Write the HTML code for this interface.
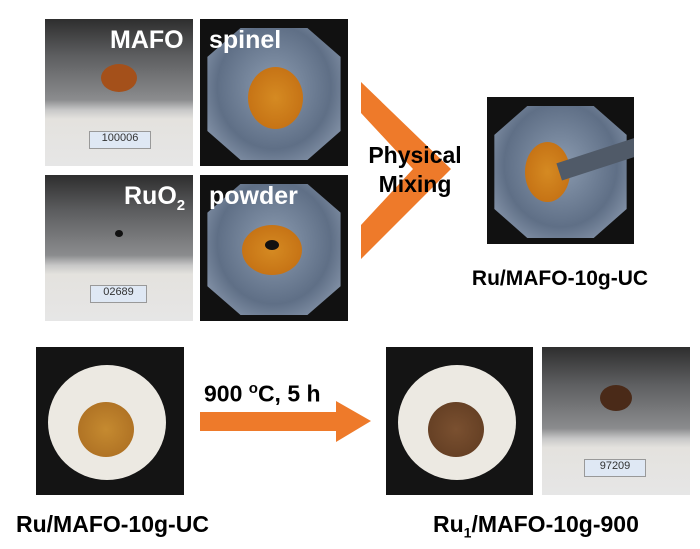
<!DOCTYPE html>
<html><head><style>
body{margin:0;width:700px;height:549px;background:#fff;position:relative;overflow:hidden;font-family:"Liberation Sans",Arial,sans-serif}
.p{position:absolute;overflow:hidden}
.bal{background:linear-gradient(#2e2e2e 0,#5d5e60 25%,#8b8c8e 55%,#c8c8c8 62%,#e4e2de 68%,#e6e6e6 100%)}
.bowl{background:#111}
.bowl .b{position:absolute;left:5%;top:6%;width:90%;height:90%;background:radial-gradient(ellipse at 50% 45%,#8b9bb0,#5f6f86 60%,#9aa8bc);clip-path:polygon(25% 0,75% 0,100% 22%,100% 78%,75% 100%,25% 100%,0 78%,0 22%)}
.pile{position:absolute;border-radius:50%;background:radial-gradient(#d58a22,#c06a10)}
.disp{position:absolute;background:#dfe8f4;border:1px solid #999;font-size:11px;color:#333;text-align:center}
.cru{background:#141414}
.cru .w{position:absolute;border-radius:50%;background:#ece9e2}
.t{position:absolute;font-weight:bold;white-space:nowrap}
.wt{color:#fff;font-size:25px}
</style></head><body>
<div class="p bal" style="left:45px;top:19px;width:148px;height:147px">
 <div class="pile" style="left:56px;top:45px;width:36px;height:28px;background:#a4501a"></div>
 <div class="disp" style="left:44px;top:112px;width:60px;height:16px">100006</div>
</div>
<div class="p bowl" style="left:200px;top:19px;width:148px;height:147px"><div class="b"></div>
 <div class="pile" style="left:48px;top:48px;width:55px;height:62px"></div></div>
<div class="t wt" style="left:110px;top:26px">MAFO</div>
<div class="t wt" style="left:209px;top:26px">spinel</div>
<div class="p bal" style="left:45px;top:175px;width:148px;height:146px">
 <div class="pile" style="left:70px;top:55px;width:8px;height:7px;background:#111"></div>
 <div class="disp" style="left:45px;top:110px;width:55px;height:16px">02689</div>
</div>
<div class="p bowl" style="left:200px;top:175px;width:148px;height:146px"><div class="b"></div>
 <div class="pile" style="left:42px;top:50px;width:60px;height:50px"></div>
 <div class="pile" style="left:65px;top:65px;width:14px;height:10px;background:#111"></div></div>
<div class="t wt" style="left:124px;top:182px">RuO<sub style="font-size:15px">2</sub></div>
<div class="t wt" style="left:209px;top:182px">powder</div>
<svg class="p" style="left:0;top:0" width="700" height="549"><polygon points="361,82 451,169 361,259 361,225 413,169 361,113" fill="#ee7a2a"/>
<polygon points="200,412 336,412 336,401 371,421 336,442 336,431 200,431" fill="#ee7a2a"/></svg>
<div class="t" style="left:365px;top:141px;font-size:23px;width:100px;text-align:center;line-height:29px">Physical<br>Mixing</div>
<div class="p bowl" style="left:487px;top:97px;width:147px;height:147px"><div class="b"></div>
 <div class="pile" style="left:38px;top:45px;width:45px;height:60px"></div>
 <div style="position:absolute;left:70px;top:52px;width:90px;height:18px;background:#505a68;transform:rotate(-18deg)"></div></div>
<div class="t" style="left:460px;top:267px;width:200px;text-align:center;font-size:21px">Ru/MAFO-10g-UC</div>
<div class="p cru" style="left:36px;top:347px;width:148px;height:148px">
 <div class="w" style="left:12px;top:18px;width:118px;height:115px"></div>
 <div class="pile" style="left:42px;top:55px;width:56px;height:55px;background:radial-gradient(#c58a30,#a86a20)"></div></div>
<div class="t" style="left:204px;top:380px;font-size:23px">900 <sup style="font-size:15px">o</sup>C, 5 h</div>
<div class="p cru" style="left:386px;top:347px;width:147px;height:148px">
 <div class="w" style="left:12px;top:18px;width:118px;height:115px"></div>
 <div class="pile" style="left:42px;top:55px;width:56px;height:55px;background:radial-gradient(#7a5030,#5e3a20)"></div></div>
<div class="p bal" style="left:542px;top:347px;width:148px;height:148px">
 <div class="pile" style="left:58px;top:38px;width:32px;height:26px;background:#4a2a18"></div>
 <div class="disp" style="left:42px;top:112px;width:60px;height:16px">97209</div></div>
<div class="t" style="left:16px;top:511px;font-size:23px">Ru/MAFO-10g-UC</div>
<div class="t" style="left:433px;top:511px;font-size:23px">Ru<sub style="font-size:14px">1</sub>/MAFO-10g-900</div>
</body></html>
